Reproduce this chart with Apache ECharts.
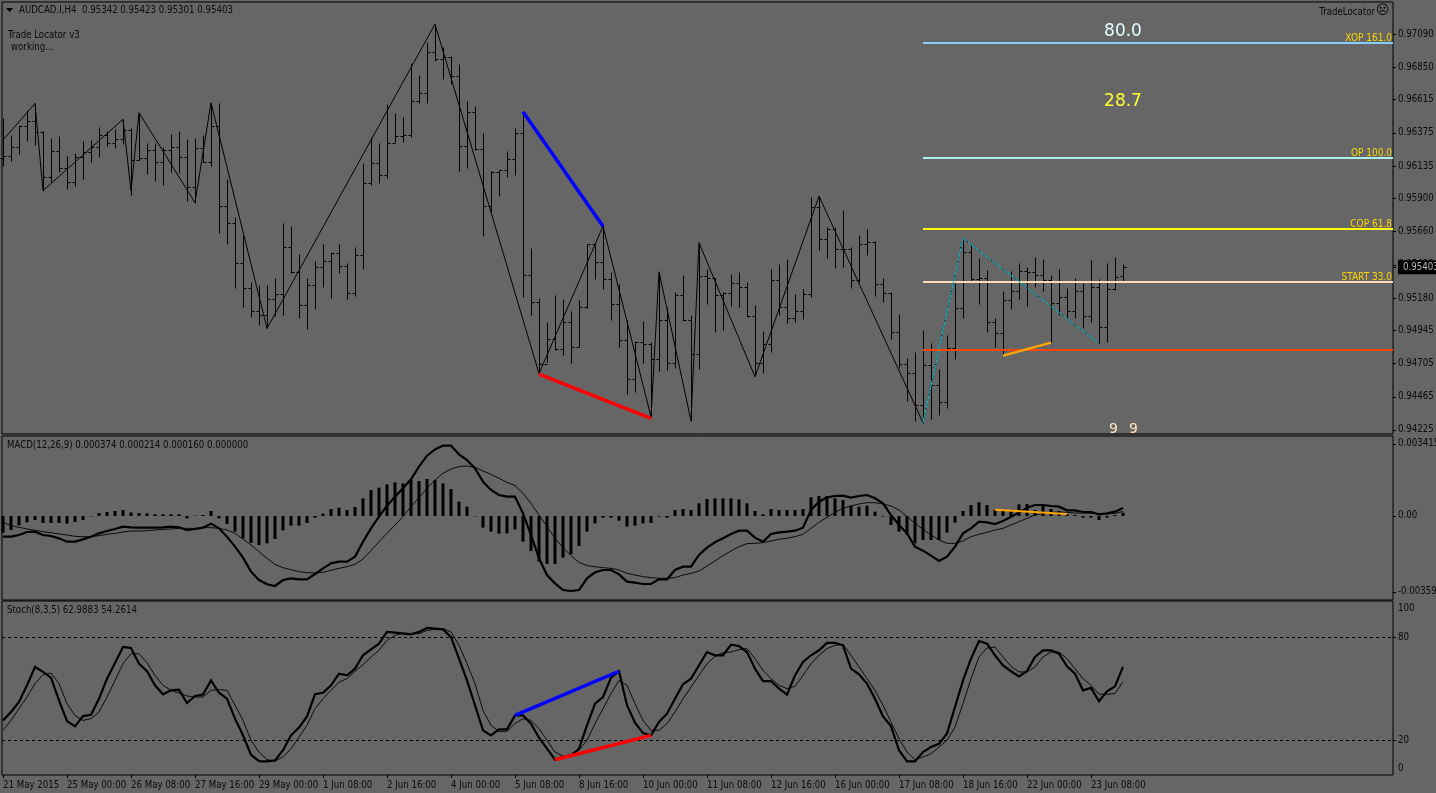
<!DOCTYPE html>
<html><head><meta charset="utf-8">
<style>html,body{margin:0;padding:0;background:#666}#c{width:1436px;height:793px}</style>
<script src="https://cdn.jsdelivr.net/npm/echarts@6/dist/echarts.min.js"></script>
</head><body><div id="c"></div>
<script>
// Prices are in points (1e-5). MACD values in 1e-6.
const tickLabels=['21 May 2015','25 May 00:00','26 May 08:00','27 May 16:00','29 May 00:00','1 Jun 08:00','2 Jun 16:00','4 Jun 00:00','5 Jun 08:00','8 Jun 16:00','10 Jun 00:00','11 Jun 08:00','12 Jun 16:00','16 Jun 00:00','17 Jun 08:00','18 Jun 16:00','22 Jun 00:00','23 Jun 08:00'];
const priceTicks=[97090,96850,96615,96375,96135,95900,95660,95420,95180,94945,94705,94465,94225,95403];
const macdTicks=[3415,0,-3599];
const stochTicks=[100,80,20,0];
const opens=[96190,96207,96270,96424,96461,96383,96053,96246,96123,96022,
96198,96239,96275,96359,96299,96328,96395,96178,96190,96251,
96161,96251,96270,96198,95985,96263,96166,96424,95848,95725,
95431,95250,95088,95057,95170,95209,95547,95370,95129,95274,
95407,95450,95503,95411,95214,95491,96010,96154,96070,96304,
96352,96359,96605,96661,96962,96907,96926,96786,96280,96528,
96256,95847,96093,96106,96188,96371,95346,95151,94700,94883,
94808,95003,94827,95117,95568,95437,95315,95136,94876,94591,
94864,94844,94736,95020,94707,95201,95020,94772,95339,95327,
95201,95213,95286,95257,95052,94707,94844,95310,95112,95037,
95088,95206,95840,95604,95683,95534,95534,95310,95570,95587,
95281,95213,94936,94700,94634,94405,94695,94550,94425,94820,
95105,95511,95320,95323,95004,94925,95166,95233,95378,95371,
95347,95310,95146,95190,95089,95231,95050,95257,94973,95243,95342];
const highs=[96480,96359,96432,96540,96588,96388,96340,96352,96207,96227,
96318,96323,96420,96391,96403,96473,96407,96521,96299,96299,
96275,96364,96388,96328,96335,96359,96593,96593,96039,95768,
95636,95298,95274,95274,95322,95720,95701,95498,95322,95450,
95571,95515,95571,95431,95547,96154,96347,96299,96584,96521,
96487,96878,96793,97035,97162,96998,96931,96871,96605,96569,
96376,96098,96106,96243,96407,96528,95539,95177,95003,95201,
95172,95088,95165,95570,95563,95700,95365,95281,95020,94871,
95013,94864,95370,95117,95225,95346,95056,95575,95389,95327,
95225,95353,95365,95293,95129,94941,95389,95425,95459,95206,
95242,95908,95913,95696,95696,95816,95546,95635,95676,95592,
95322,95225,95061,94743,94786,94948,94851,94663,94912,95286,
95612,95564,95467,95383,95038,95231,95378,95431,95402,95474,
95462,95347,95390,95255,95323,95286,95455,95318,95431,95474,95423];
const lows=[96137,96171,96222,96318,96287,95957,96022,96094,95969,95990,
96041,96166,96198,96282,96268,96294,95925,96178,96077,96026,
95997,96094,96082,95882,95870,96161,96137,95648,95571,95255,
95117,95045,94985,94960,95050,95057,95358,95038,94956,95100,
95262,95182,95363,95170,95197,95387,95997,96010,96046,96311,
96311,96342,96593,96593,96897,96764,96726,96101,96118,96251,
95628,95804,95917,96057,96069,95189,95056,94634,94719,94803,
94767,94707,94827,95105,95317,95245,95020,94827,94482,94502,
94707,94321,94654,94659,94671,95015,94292,94663,95136,94936,
94948,95122,95117,95044,94622,94639,94791,95056,94996,95008,
95025,95189,95527,95471,95399,95406,95254,95298,95491,95196,
95153,94883,94675,94437,94290,94277,94302,94333,94386,94739,
95033,95298,95137,94937,94828,94768,95098,95173,95122,95257,
95231,94859,95057,95026,95033,94966,95004,94852,94859,95238,95301];
const closes=[96207,96270,96424,96461,96383,96053,96246,96123,96022,96198,
96239,96275,96359,96299,96328,96395,96178,96190,96251,96161,
96251,96270,96198,95985,96263,96166,96424,95848,95725,95431,
95250,95088,95057,95170,95209,95547,95370,95129,95274,95407,
95450,95503,95411,95214,95491,96010,96154,96070,96304,96352,
96359,96605,96661,96962,96907,96926,96786,96280,96528,96256,
95847,96093,96106,96188,96371,95346,95151,94700,94883,94808,
95003,94827,95117,95568,95437,95315,95136,94876,94591,94864,
94844,94736,95020,94707,95201,95020,94772,95339,95327,95201,
95213,95286,95257,95052,94707,94844,95310,95112,95037,95088,
95206,95840,95604,95683,95534,95534,95310,95570,95587,95281,
95213,94936,94700,94634,94405,94695,94550,94425,94820,95105,
95511,95320,95323,95004,94925,95166,95233,95378,95371,95347,
95310,95146,95190,95089,95231,95050,95257,94973,95243,95330,95403];
const zigzagBars=[0,4,5,15,16,17,24,26,33,54,67,75,81,82,86,87,94,102,115,120,137];
const zigzagPrices=[96323,96588,95957,96473,95957,96521,95870,96593,94960,97162,94634,95700,94321,95370,94292,95580,94610,95917,94277,95612,94852];
const cyanBars=[115,120,137];
const cyanPrices=[94277,95612,94852];
const blueBars=[65,75],bluePrices=[96528,95700];
const redBars=[67,81],redPrices=[94630,94309];
const orangeBars=[125,131],orangePrices=[94763,94857];
const levelNames=['XOP 161.0','OP 100.0','COP 61.8','START 33.0',''];
const levelPrices=[97025,96193,95679,95296,94804];
const levelColors=['#87cefa','#afeeee','#ffff00','#ffdab9','#ff4500'];
const macdHist=[-790,-664,-442,-300,-190,-332,-332,-332,-363,-284,-190,-16,142,190,237,284,174,142,126,79,79,79,79,-111,16,47,237,-111,-379,-743,-1059,-1280,-1375,-1296,-1090,-679,-458,-458,-332,-79,111,332,395,284,427,837,1232,1343,1501,1596,1548,1706,1659,1754,1706,1548,1280,679,442,-16,-553,-743,-837,-822,-632,-1217,-1659,-2165,-2275,-2275,-1975,-1817,-1422,-743,-348,
-79,-79,-221,-506,-458,-348,-332,-32,-79,284,332,284,600,806,837,837,837,790,600,237,79,332,284,284,284,332,885,948,948,837,758,490,442,490,205,-32,-427,-743,-901,-1296,-1138,-1138,-1138,-790,-316,237,521,648,521,284,284,284,553,569,284,490,332,237,79,47,-79,-79,-190,-79,47,160];
const macdMain=[-980,-980,-901,-758,-743,-901,-948,-1059,-1217,-1217,-1106,-980,-822,-711,-616,-506,-537,-553,-553,-553,-537,-506,-537,-664,-616,-553,-363,-585,-980,-1454,-1975,-2639,-3034,-3239,-3318,-3034,-2955,-3002,-3002,-2749,-2481,-2244,-2165,-2165,-1928,-1217,-585,-32,490,916,1311,1738,2338,2860,3160,3334,3334,2923,2654,2259,1627,1232,995,916,916,126,-901,-2007,-2797,-3192,-3508,-3555,-3508,-2955,-2670,
-2560,-2560,-2765,-3113,-3160,-3223,-3223,-3002,-3002,-2560,-2402,-2402,-1849,-1501,-1248,-1059,-853,-695,-695,-1027,-1217,-853,-774,-743,-695,-553,284,679,885,948,964,869,948,995,837,600,47,-427,-822,-1454,-1643,-1880,-2133,-1928,-1454,-822,-585,-269,-300,-379,-237,-32,158,395,521,521,474,442,269,269,190,190,79,126,205,374];
const macdSignal=[-300,-458,-537,-616,-679,-743,-790,-853,-901,-964,-980,-980,-932,-869,-822,-758,-711,-711,-695,-664,-632,-616,-585,-585,-585,-553,-553,-585,-664,-822,-1090,-1375,-1691,-2007,-2291,-2449,-2544,-2639,-2686,-2702,-2670,-2575,-2481,-2402,-2291,-2038,-1643,-1217,-822,-427,-32,442,869,1311,1706,2022,2228,2338,2370,2307,2133,1975,1785,1596,1438,1074,600,47,-506,-1059,-1501,-1880,-2196,-2354,-2402,
-2449,-2481,-2560,-2718,-2797,-2876,-2923,-2955,-2955,-2923,-2797,-2718,-2607,-2370,-2133,-1880,-1659,-1454,-1311,-1296,-1264,-1185,-1106,-1059,-980,-869,-585,-300,-63,174,363,474,569,632,632,569,474,284,-32,-348,-632,-901,-1138,-1296,-1296,-1185,-980,-869,-774,-664,-585,-427,-269,-111,47,126,174,190,174,142,142,126,111,95,126,214];
const macdOrangeBars=[124,133],macdOrangeVals=[300,95];
const stochK=[31.8,36.7,42.5,52.2,62.9,60.0,56.7,43.4,31.4,28.3,34.3,35.1,44.4,56.1,65.2,74.5,73.9,64.8,60.5,52.2,47.0,49.3,49.7,41.9,46.0,46.8,55.1,47.9,44.4,32.8,23.1,11.8,8.1,7.9,8.5,14.4,23.1,27.6,34.1,47.0,47.9,52.2,59.0,58.0,61.9,69.7,73.2,76.5,83.3,82.9,82.3,81.9,83.3,85.6,85.2,84.8,80.3,67.7,55.1,40.6,26.0,23.1,26.6,26.6,34.7,34.7,29.9,21.7,15.3,8.9,10.5,11.4,15.3,28.9,41.5,
45.4,56.7,60.4,40.6,30.5,24.4,23.1,30.9,35.7,44.4,52.8,56.1,63.8,71.6,69.7,69.7,75.9,75.1,71.6,61.9,54.7,54.7,50.3,46.8,58.0,65.8,69.7,72.6,76.9,76.9,75.5,61.9,58.6,53.2,44.4,34.1,28.5,14.4,7.9,7.9,13.4,16.3,18.2,24.1,39.6,55.1,67.7,78.0,76.5,69.7,63.8,60.4,57.4,60.5,68.7,72.6,72.6,70.6,63.3,59.0,49.3,50.7,42.9,48.7,51.6,62.99];
const stochD=[26.0,31.8,38.6,45.4,53.2,58.4,59.4,53.2,41.5,34.7,31.8,32.8,36.7,45.4,55.1,64.8,70.6,70.6,65.4,58.0,52.2,49.3,47.7,46.0,45.4,45.4,49.3,49.7,49.3,40.6,31.8,20.2,13.4,8.9,8.1,10.5,15.3,22.1,28.9,38.6,44.4,49.3,54.1,56.1,60.4,64.2,68.7,72.6,78.4,81.3,82.7,82.3,82.3,84.2,84.8,85.2,83.3,75.5,64.8,53.2,37.6,28.9,25.4,25.4,29.9,32.8,31.8,27.0,20.2,13.4,10.9,11.8,14.4,20.2,29.9,
38.6,47.4,55.1,52.2,41.5,31.8,26.0,26.0,29.9,36.7,44.4,51.2,58.0,64.8,69.1,71.2,71.6,73.0,73.6,67.7,60.9,56.1,52.2,50.3,51.6,58.0,64.8,69.7,73.6,75.5,76.1,69.7,62.9,56.1,49.3,40.6,30.9,21.1,13.4,8.9,10.5,12.4,16.3,20.2,27.9,41.5,56.1,68.7,73.9,74.5,68.7,63.3,60.0,60.0,62.9,68.7,71.6,71.6,67.7,61.9,56.1,52.2,47.0,47.0,47.4,54.26];
const stochBlueBars=[64,77],stochBlueVals=[34.7,60.4];
const stochRedBars=[69,81],stochRedVals=[8.9,23.1];

const FONT='"DejaVu Sans Condensed","Liberation Sans",sans-serif';
const FS=9.6;
const TXT='#0a0a0a', BG='#666666';
const XMIN=-0.125,XMAX=173.75;
const pairs=(xs,ys)=>xs.map((x,i)=>[x,ys[i]]);
const series1=ys=>ys.map((y,i)=>[i,y]);

function xAxis(idx,show){return {type:'value',gridIndex:idx,min:XMIN,max:XMAX,position:'bottom',splitLine:{show:false},
  axisLine:{show:false,onZero:false},
  axisTick:{show:show,customValues:tickLabels.map((_,i)=>i*8),length:3,lineStyle:{color:'#000'}},
  axisLabel:{show:show,customValues:tickLabels.map((_,i)=>i*8),color:TXT,fontFamily:FONT,fontSize:FS,align:'left',margin:5,
    formatter:v=>tickLabels[Math.round(v/8)]||''}};}
function line(name,xi,yi,data,w,color,extra){return Object.assign({type:'line',name,xAxisIndex:xi,yAxisIndex:yi,data,symbol:'none',silent:true,
  lineStyle:{width:w,color,join:'miter'},itemStyle:{color},z:3},extra||{});}
const G={left:2,width:1391,show:true,borderColor:'#000',borderWidth:1,backgroundColor:'transparent',outerBoundsMode:'none',containLabel:false};

const opt={animation:false,backgroundColor:BG,
 grid:[Object.assign({top:2,height:432},G),Object.assign({top:436,height:164},G),Object.assign({top:601,height:174},G)],
 xAxis:[xAxis(0,false),xAxis(1,false),xAxis(2,true)],
 yAxis:[
  {type:'value',gridIndex:0,position:'right',min:94196,max:97322,scale:true,splitLine:{show:false},axisLine:{show:false,onZero:false},
   axisTick:{show:true,customValues:priceTicks,length:3,lineStyle:{color:'#000'}},
   axisLabel:{customValues:priceTicks,color:TXT,fontFamily:FONT,fontSize:FS,margin:5,
     formatter:v=>v===95403?'{cur|0.95403}':(v/100000).toFixed(5),
     rich:{cur:{backgroundColor:'#000',color:'#bdbdbd',fontFamily:FONT,fontSize:FS,padding:[2,10,2,5]}}}},
  {type:'value',gridIndex:1,position:'right',min:-3982,max:3792,splitLine:{show:false},axisLine:{show:false,onZero:false},
   axisTick:{show:true,customValues:macdTicks,length:3,lineStyle:{color:'#000'}},
   axisLabel:{customValues:macdTicks,color:TXT,fontFamily:FONT,fontSize:FS,margin:5,
     formatter:v=>v===0?'0.00':(v/1e6).toFixed(6)}},
  {type:'value',gridIndex:2,position:'right',min:0,max:101.3,splitLine:{show:false},axisLine:{show:false,onZero:false},
   axisTick:{show:true,customValues:[80,20],length:3,lineStyle:{color:'#000'}},
   axisLabel:{customValues:stochTicks,color:TXT,fontFamily:FONT,fontSize:FS,margin:5,
     formatter:v=>v===100?'{a|100}':v===0?'{b|0}':String(v),
     rich:{a:{padding:[10,0,0,0],color:TXT,fontFamily:FONT,fontSize:FS},b:{padding:[0,0,14,0],color:TXT,fontFamily:FONT,fontSize:FS}}}}
 ],
 series:[
  {type:'custom',name:'AUDCAD.I,H4',xAxisIndex:0,yAxisIndex:0,silent:true,z:2,
   data:opens.map((o,i)=>[i,o,highs[i],lows[i],closes[i]]),encode:{x:0,y:[1,2,3,4]},
   renderItem:(p,api)=>{
     const i=api.value(0);
     const pO=api.coord([i,api.value(1)]),pH=api.coord([i,api.value(2)]),pL=api.coord([i,api.value(3)]),pC=api.coord([i,api.value(4)]);
     const x=Math.round(pO[0])+0.5,s={stroke:'#000',lineWidth:1,fill:null};
     const mk=(x1,y1,x2,y2)=>({type:'line',shape:{x1,y1,x2,y2},style:s,silent:true});
     const r=v=>Math.round(v)+0.5;
     return {type:'group',children:[mk(x,r(pH[1]),x,r(pL[1])),mk(x-3,r(pO[1]),x,r(pO[1])),mk(x,r(pC[1]),x+3,r(pC[1]))]};
   }},
  line('ZigZag',0,0,pairs(zigzagBars,zigzagPrices),1,'#000'),
  line('levels',0,0,[],1,'#000',{z:4,markLine:{silent:true,symbol:'none',animation:false,precision:5,
     data:levelNames.map((n,i)=>[{name:n,coord:[115,levelPrices[i]],lineStyle:{color:levelColors[i],width:2,type:'solid'}},{coord:[XMAX,levelPrices[i]]}]),
     label:{show:true,position:'insideEndTop',distance:[1,0],formatter:p=>p.name,color:'#ffd700',fontFamily:FONT,fontSize:10}}}),
  line('Cyan',0,0,pairs(cyanBars,cyanPrices),1,'#12c9d6',{z:5,lineStyle:{width:1,color:'#12c9d6',type:[14,1]}}),
  line('Blue',0,0,pairs(blueBars,bluePrices),3.5,'#0000ff',{z:6}),
  line('Red',0,0,pairs(redBars,redPrices),3.5,'#ff0000',{z:6}),
  line('Orange',0,0,pairs(orangeBars,orangePrices),2.5,'#ffa500',{z:6}),
  {type:'bar',name:'MACD hist',xAxisIndex:1,yAxisIndex:1,data:series1(macdHist),barWidth:3,itemStyle:{color:'#000'},silent:true,z:2},
  line('MACD',1,1,series1(macdMain),2.2,'#000'),
  line('Signal',1,1,series1(macdSignal),0.9,'#000'),
  line('MACD orange',1,1,pairs(macdOrangeBars,macdOrangeVals),2,'#ffa500',{z:6}),
  line('%K',2,2,series1(stochK),2.2,'#000',{markLine:{silent:true,symbol:'none',animation:false,label:{show:false},
     lineStyle:{color:'#000',width:1,type:[3,3]},data:[{yAxis:80},{yAxis:20}]}}),
  line('%D',2,2,series1(stochD),0.9,'#000'),
  line('Stoch blue',2,2,pairs(stochBlueBars,stochBlueVals),3.5,'#0000ff',{z:6}),
  line('Stoch red',2,2,pairs(stochRedBars,stochRedVals),3.5,'#ff0000',{z:6})
 ],
 graphic:[
  {type:'polygon',shape:{points:[[6,8],[13,8],[9.5,12]]},style:{fill:'#000'}},
  ...[
   ['AUDCAD.I,H4  0.95342 0.95423 0.95301 0.95403',19,5],
   ['Trade Locator v3',8,30],
   ['working...',11,42],
   ['MACD(12,26,9) 0.000374 0.000214 0.000160 0.000000',7,440],
   ['Stoch(8,3,5) 62.9883 54.2614',7,605]
  ].map(t=>({type:'text',x:t[1],y:t[2],silent:true,style:{text:t[0],fill:TXT,font:FS+'px '+FONT}})),
  {type:'text',x:1375,y:7,silent:true,style:{text:'TradeLocator',fill:TXT,font:FS+'px '+FONT,textAlign:'right'}},
  {type:'text',x:1382.5,y:4,silent:true,style:{text:'\u2639',fill:'#000',font:'13px "DejaVu Sans"',textAlign:'center'}},
  {type:'text',x:1123,y:23,silent:true,style:{text:'80.0',fill:'#e0ffff',font:'17px "DejaVu Sans"',textAlign:'center'}},
  {type:'text',x:1123,y:93,silent:true,style:{text:'28.7',fill:'#ffff33',font:'17px "DejaVu Sans"',textAlign:'center'}},
  {type:'text',x:1109,y:422,silent:true,style:{text:'9',fill:'#ffe4c4',font:'14px "DejaVu Sans"'}},
  {type:'text',x:1129,y:422,silent:true,style:{text:'9',fill:'#ffe4c4',font:'14px "DejaVu Sans"'}}
 ]
};
echarts.init(document.getElementById('c'),null,{renderer:'canvas'}).setOption(opt);
</script></body></html>
